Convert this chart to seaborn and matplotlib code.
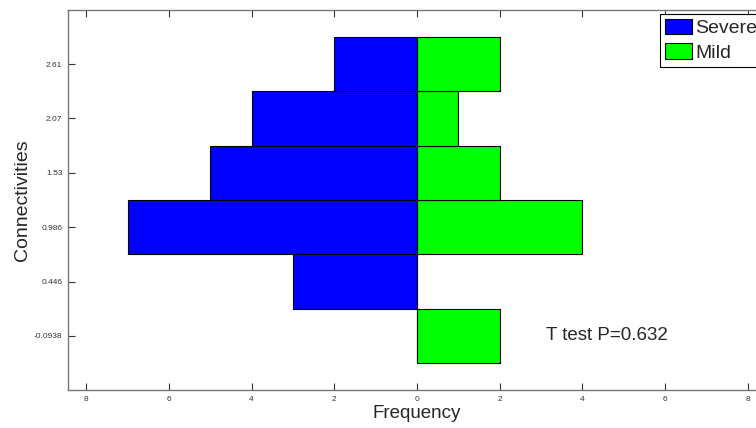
import numpy as np
import pandas as pd
import matplotlib
matplotlib.use("Agg")
import matplotlib.pyplot as plt
import seaborn as sns
from matplotlib.patches import Patch

# data
bin_centers = [-0.0938, 0.446, 0.986, 1.53, 2.07, 2.61]
bin_labels = ["-0.0938", "0.446", "0.986", "1.53", "2.07", "2.61"]
severe_counts = [0, 3, 7, 5, 4, 2]
mild_counts = [2, 0, 4, 2, 1, 2]
x_ticks = [-8, -6, -4, -2, 0, 2, 4, 6, 8]
x_ticklabels = ["8", "6", "4", "2", "0", "2", "4", "6", "8"]
annotation = "T test P=0.632"

sns.set_theme(style="white")
plt.rcParams["font.family"] = ["Liberation Sans", "DejaVu Sans"]

fig = plt.figure(figsize=(7.56, 4.28), dpi=100)
ax = fig.add_axes([68/756, 38/428, 698/756, 380/428])

df_sev = pd.DataFrame({"count": [-c for c in severe_counts], "pos": bin_centers})
df_mild = pd.DataFrame({"count": mild_counts, "pos": bin_centers})

sns.barplot(data=df_sev, x="count", y="pos", orient="y", native_scale=True,
            width=1.0, color="#0000FF", saturation=1, edgecolor="black",
            linewidth=0.8, ax=ax)
sns.barplot(data=df_mild, x="count", y="pos", orient="y", native_scale=True,
            width=1.0, color="#00FF00", saturation=1, edgecolor="black",
            linewidth=0.8, ax=ax)

bw = bin_centers[1] - bin_centers[0]
ax.set_ylim(bin_centers[0] - bw, bin_centers[-1] + bw)
ax.set_xlim(-8.44, 8.44)
ax.set_yticks(bin_centers)
ax.set_yticklabels(bin_labels)
ax.set_xticks(x_ticks)
ax.set_xticklabels(x_ticklabels)

ax.tick_params(axis="both", direction="in", length=5, width=0.8,
               labelsize=6, colors="#333333", top=True, right=True,
               left=True, bottom=True, pad=4)
for s in ax.spines.values():
    s.set_color("#777777")
    s.set_linewidth(1.0)

ax.set_xlabel("Frequency", fontsize=13.5, labelpad=2)
ax.set_ylabel("Connectivities", fontsize=14, labelpad=2)

ax.text(3.12, bin_centers[0], annotation, fontsize=13.5, va="center", ha="left")

handles = [Patch(facecolor="#0000FF", edgecolor="black", linewidth=0.8),
           Patch(facecolor="#00FF00", edgecolor="black", linewidth=0.8)]
leg = ax.legend(handles, ["Severe", "Mild"], loc="upper left",
                bbox_to_anchor=(660/756, 1 - 14/428), bbox_transform=fig.transFigure,
                borderaxespad=0, fancybox=False, framealpha=1, edgecolor="black",
                fontsize=14, handlelength=1.4, handleheight=0.85,
                handletextpad=0.15, borderpad=0.25, labelspacing=0.3)
leg.get_frame().set_linewidth(0.8)

fig.savefig("out.png", dpi=100)
